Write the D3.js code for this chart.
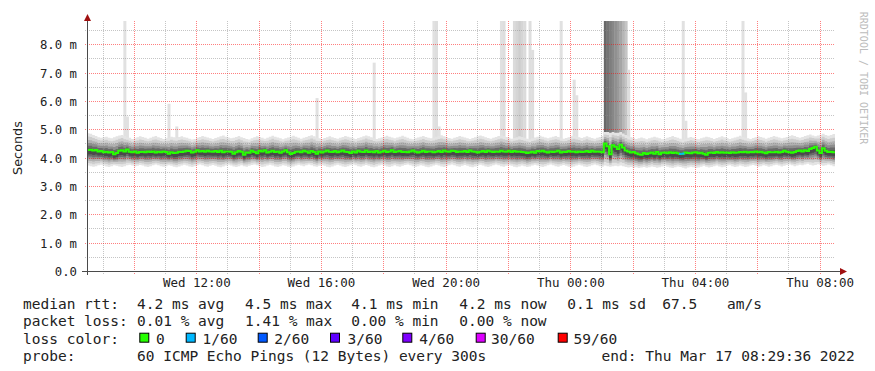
<!DOCTYPE html>
<html><head><meta charset="utf-8">
<script src="https://cdn.jsdelivr.net/npm/d3@7"></script>
<style>
html,body{margin:0;padding:0;background:#fff;}
svg{display:block;}
</style></head>
<body>
<svg id="c" width="875" height="371"></svg>
<script>
// ---------- DATA ----------
const startTime = Date.UTC(2022, 2, 16, 8, 29, 36);   // Wed Mar 16 08:29:36
const endTime   = Date.UTC(2022, 2, 17, 8, 29, 36);   // Thu Mar 17 08:29:36
const stepSec = 300;
const yTicks = [0,1,2,3,4,5,6,7,8];
const yMax = 8.82;

// median rtt (ms), one value per 5 min step (24 rows x 12)
const median = [
4.27,4.28,4.25,4.27,4.22,4.23,4.19,4.21,4.18,4.20,4.12,4.16,
4.24,4.26,4.22,4.29,4.21,4.19,4.22,4.17,4.20,4.21,4.19,4.22,
4.20,4.22,4.18,4.21,4.19,4.22,4.20,4.14,4.19,4.16,4.17,4.21,
4.20,4.22,4.24,4.23,4.18,4.21,4.26,4.22,4.23,4.21,4.24,4.22,
4.21,4.23,4.20,4.24,4.19,4.22,4.22,4.21,4.14,4.19,4.23,4.21,
4.10,4.18,4.17,4.24,4.20,4.15,4.24,4.22,4.26,4.18,4.21,4.24,
4.20,4.22,4.17,4.22,4.26,4.19,4.13,4.16,4.21,4.22,4.19,4.24,
4.22,4.17,4.23,4.20,4.14,4.22,4.18,4.22,4.25,4.21,4.20,4.23,
4.19,4.22,4.25,4.21,4.20,4.16,4.22,4.18,4.24,4.21,4.20,4.25,
4.20,4.22,4.19,4.23,4.18,4.21,4.24,4.20,4.22,4.26,4.20,4.22,
4.23,4.20,4.21,4.19,4.22,4.25,4.21,4.18,4.21,4.24,4.20,4.22,
4.22,4.19,4.21,4.23,4.20,4.25,4.22,4.21,4.24,4.23,4.20,4.22,
4.21,4.23,4.20,4.25,4.22,4.21,4.18,4.21,4.23,4.20,4.24,4.22,
4.20,4.22,4.21,4.24,4.22,4.21,4.24,4.20,4.23,4.21,4.22,4.20,
4.19,4.16,4.18,4.21,4.17,4.23,4.22,4.24,4.21,4.18,4.22,4.20,
4.22,4.24,4.18,4.21,4.20,4.23,4.21,4.22,4.19,4.22,4.20,4.21,
4.23,4.20,4.24,4.21,4.22,4.21,4.19,4.50,4.40,4.12,4.44,4.38,
4.30,4.45,4.36,4.25,4.22,4.18,4.20,4.15,4.12,4.10,4.16,4.13,
4.15,4.18,4.14,4.20,4.12,4.17,4.18,4.15,4.19,4.16,4.18,4.15,
4.13,4.14,4.18,4.16,4.15,4.18,4.19,4.15,4.17,4.14,4.10,4.17,
4.18,4.16,4.20,4.17,4.19,4.17,4.18,4.16,4.19,4.17,4.18,4.20,
4.19,4.21,4.18,4.20,4.19,4.22,4.19,4.21,4.18,4.15,4.20,4.19,
4.19,4.21,4.18,4.20,4.24,4.21,4.19,4.17,4.20,4.23,4.25,4.22,
4.26,4.23,4.30,4.34,4.38,4.25,4.16,4.33,4.24,4.20,4.21,4.19
];

// upper edge of the smoke (ms)
const smokeHigh = [
4.86,4.84,4.80,4.76,4.72,4.70,4.72,4.74,4.70,4.68,4.72,4.75,
4.78,4.80,4.76,4.72,4.70,4.66,4.68,4.72,4.75,4.73,4.70,4.67,
4.70,4.74,4.76,4.72,4.69,4.66,4.68,4.71,4.74,4.72,4.70,4.73,
4.75,4.72,4.70,4.67,4.64,4.66,4.70,4.73,4.76,4.74,4.71,4.68,
4.66,4.69,4.72,4.75,4.78,4.74,4.71,4.68,4.70,4.73,4.76,4.72,
4.69,4.66,4.64,4.68,4.72,4.75,4.73,4.70,4.67,4.70,4.74,4.77,
4.74,4.71,4.68,4.65,4.68,4.71,4.74,4.77,4.74,4.70,4.67,4.70,
4.73,4.76,4.79,4.75,4.71,4.68,4.66,4.69,4.72,4.75,4.72,4.69,
4.67,4.70,4.73,4.76,4.74,4.71,4.68,4.66,4.69,4.72,4.75,4.78,
4.75,4.72,4.69,4.66,4.68,4.71,4.74,4.77,4.74,4.71,4.68,4.71,
4.74,4.77,4.74,4.70,4.67,4.65,4.68,4.71,4.74,4.76,4.73,4.70,
4.68,4.71,4.74,4.77,4.79,4.75,4.72,4.69,4.67,4.70,4.73,4.76,
4.74,4.71,4.68,4.66,4.69,4.72,4.75,4.78,4.75,4.72,4.69,4.67,
4.70,4.73,4.76,4.79,4.76,4.73,4.70,4.67,4.69,4.72,4.75,4.73,
4.70,4.67,4.65,4.68,4.71,4.74,4.77,4.74,4.71,4.68,4.71,4.74,
4.76,4.73,4.70,4.67,4.69,4.72,4.75,4.78,4.75,4.72,4.69,4.72,
4.75,4.72,4.69,4.67,4.70,4.73,4.76,4.90,4.90,4.88,4.90,4.88,
4.88,4.90,4.85,4.80,4.75,4.72,4.69,4.66,4.68,4.71,4.68,4.65,
4.68,4.71,4.74,4.71,4.68,4.65,4.67,4.70,4.73,4.76,4.73,4.70,
4.67,4.64,4.67,4.70,4.73,4.70,4.67,4.65,4.68,4.71,4.74,4.72,
4.69,4.66,4.69,4.72,4.75,4.72,4.69,4.66,4.68,4.71,4.74,4.77,
4.74,4.71,4.68,4.66,4.69,4.72,4.75,4.73,4.70,4.67,4.70,4.73,
4.76,4.74,4.71,4.68,4.70,4.73,4.76,4.79,4.76,4.73,4.70,4.73,
4.76,4.79,4.82,4.78,4.75,4.78,4.81,4.84,4.80,4.77,4.80,4.83
];

// lower edge of the smoke (ms)
const smokeLow = [
3.72,3.70,3.68,3.70,3.73,3.75,3.72,3.69,3.67,3.70,3.73,3.71,
3.69,3.67,3.70,3.73,3.75,3.72,3.69,3.71,3.74,3.72,3.69,3.67,
3.70,3.73,3.76,3.73,3.70,3.68,3.70,3.73,3.71,3.68,3.66,3.69,
3.72,3.75,3.72,3.69,3.67,3.70,3.73,3.76,3.73,3.70,3.68,3.71,
3.74,3.71,3.68,3.66,3.69,3.72,3.75,3.72,3.69,3.67,3.70,3.73,
3.70,3.68,3.71,3.74,3.76,3.73,3.70,3.67,3.69,3.72,3.75,3.72,
3.69,3.67,3.70,3.73,3.71,3.68,3.66,3.69,3.72,3.75,3.72,3.70,
3.73,3.76,3.73,3.70,3.68,3.71,3.74,3.71,3.68,3.66,3.69,3.72,
3.75,3.72,3.69,3.67,3.70,3.73,3.76,3.73,3.70,3.68,3.71,3.74,
3.71,3.68,3.66,3.69,3.72,3.75,3.72,3.69,3.67,3.70,3.73,3.70,
3.68,3.71,3.74,3.76,3.73,3.70,3.67,3.70,3.73,3.71,3.68,3.66,
3.69,3.72,3.75,3.72,3.69,3.67,3.70,3.73,3.76,3.73,3.70,3.68,
3.71,3.74,3.71,3.68,3.66,3.69,3.72,3.75,3.72,3.69,3.67,3.70,
3.73,3.76,3.73,3.70,3.68,3.71,3.74,3.71,3.68,3.66,3.69,3.72,
3.70,3.67,3.69,3.72,3.75,3.72,3.69,3.67,3.70,3.73,3.76,3.73,
3.70,3.68,3.71,3.74,3.71,3.68,3.66,3.69,3.72,3.75,3.72,3.69,
3.67,3.70,3.73,3.76,3.73,3.70,3.68,3.72,3.70,3.68,3.70,3.71,
3.70,3.72,3.70,3.67,3.65,3.67,3.64,3.66,3.63,3.65,3.67,3.64,
3.66,3.69,3.67,3.64,3.66,3.69,3.71,3.68,3.65,3.63,3.66,3.69,
3.67,3.64,3.62,3.65,3.68,3.66,3.63,3.65,3.68,3.71,3.68,3.65,
3.67,3.70,3.72,3.69,3.66,3.68,3.71,3.73,3.70,3.67,3.69,3.72,
3.70,3.67,3.69,3.72,3.74,3.71,3.68,3.70,3.73,3.71,3.68,3.70,
3.73,3.75,3.72,3.69,3.71,3.74,3.76,3.73,3.70,3.72,3.75,3.73,
3.76,3.78,3.75,3.72,3.74,3.77,3.74,3.71,3.73,3.76,3.73,3.70
];

// outlier pings: step index, highest value (ms), number of pings above the smoke
const spikeStep  = [14,15,31,34,88,110,133,134,135,159,160,164,165,166,167,168,170,171,182,187,188,199,200,201,202,203,204,205,206,207,208,229,230,252,253];
const spikeTop   = [8.9,5.45,5.9,5.1,6.1,7.35,8.9,8.9,5.1,8.9,8.9,8.9,8.9,8.9,8.9,8.9,8.9,7.8,8.9,6.75,6.2,8.9,8.9,8.9,8.9,8.9,8.9,8.9,8.9,8.9,7.1,8.9,5.3,8.9,6.3];
const spikeCount = [1,1,1,1,1,1,1,2,1,1,2,3,5,7,5,3,2,2,1,1,1,40,36,33,30,27,24,20,15,10,2,1,1,1,1];

// steps with packet loss (index -> lost pings of 60)
const lossStep  = [228, 229];
const lossCount = [1, 1];

const lossLabels = ["0","1/60","2/60","3/60","4/60","30/60","59/60"];
const lossColors = ["#26ff00","#00b8ff","#0059ff","#5e00ff","#7e00ff","#dd00ff","#ff0000"];

const statsRtt  = ["4.2 ms avg","4.5 ms max","4.1 ms min","4.2 ms now","0.1 ms sd","67.5","am/s"];
const statsLoss = ["0.01 % avg","1.41 % max","0.00 % min","0.00 % now"];
const probeText = "60 ICMP Echo Pings (12 Bytes) every 300s";
const endText = "end: Thu Mar 17 08:29:36 2022";

// ---------- LAYOUT ----------
const L = 87, R = 835, T = 21, B = 271;
const MONO = "'DejaVu Sans Mono', monospace";
const svg = d3.select("#c");

const x = d3.scaleUtc().domain([startTime, endTime]).range([L, R]);
const y = d3.scaleLinear().domain([0, yMax]).range([B, T]);
const tAt = i => startTime + i * stepSec * 1000;
const N = median.length;

svg.append("defs").append("clipPath").attr("id","plot")
  .append("rect").attr("x", L + 1).attr("y", T).attr("width", R - L - 1).attr("height", B - T);

const plot = svg.append("g").attr("clip-path", "url(#plot)");

// ---------- SPIKES ----------
spikeStep.forEach((s, k) => {
  const g = Math.max(80, Math.round(228 - spikeCount[k] * 3.1));
  plot.append("rect")
    .attr("x", x(tAt(s))).attr("width", x(tAt(s + 1)) - x(tAt(s)) + 0.4)
    .attr("y", y(spikeTop[k])).attr("height", y(median[s]) - y(spikeTop[k]))
    .attr("fill", d3.rgb(g, g, g));
});

// ---------- SMOKE ----------
const bandF = [1, 0.82, 0.64, 0.48, 0.33, 0.18];
const bandC = ["#e4e4e4", "#cdcdcd", "#b0b0b0", "#8e8e8e", "#6a6a6a", "#4a4a4a"];
const idx = d3.range(N + 1);
const cl = i => Math.min(i, N - 1);
bandF.forEach((f, b) => {
  const area = d3.area()
    .curve(d3.curveStepAfter)
    .x(i => x(tAt(i)))
    .y0(i => { const c = median[cl(i)] - 0.07; return y(c - (c - smokeLow[cl(i)]) * f); })
    .y1(i => { const c = median[cl(i)] - 0.07; return y(c + (smokeHigh[cl(i)] - c) * f); });
  plot.append("path").datum(idx).attr("d", area).attr("fill", bandC[b]);
});

// ---------- GRID (on top of the smoke) ----------
const grid = svg.append("g");
const hours = d3.utcHour.range(new Date(startTime), new Date(endTime));
const minorC = "rgba(140,140,140,0.5)", majorC = "rgba(255,0,0,0.5)";
d3.range(0.5, yMax, 1).forEach(v => {
  grid.append("line").attr("x1", L - 2).attr("x2", R).attr("y1", Math.round(y(v)) + 0.5).attr("y2", Math.round(y(v)) + 0.5)
    .attr("stroke", minorC).attr("stroke-dasharray", "1,1");
});
hours.filter(h => h.getUTCHours() % 2 === 1).forEach(h => {
  const xx = Math.round(x(h)) + 0.5;
  grid.append("line").attr("x1", xx).attr("x2", xx).attr("y1", T).attr("y2", B + 3)
    .attr("stroke", minorC).attr("stroke-dasharray", "1,1");
});
yTicks.filter(v => v > 0).forEach(v => {
  grid.append("line").attr("x1", L - 2).attr("x2", R).attr("y1", Math.round(y(v)) + 0.5).attr("y2", Math.round(y(v)) + 0.5)
    .attr("stroke", majorC).attr("stroke-dasharray", "1,1");
});
hours.filter(h => h.getUTCHours() % 2 === 0).forEach(h => {
  const xx = Math.round(x(h)) + 0.5;
  grid.append("line").attr("x1", xx).attr("x2", xx).attr("y1", T).attr("y2", B + 3)
    .attr("stroke", majorC).attr("stroke-dasharray", "1,1");
});

// ---------- MEDIAN LINE ----------
const plot2 = svg.append("g").attr("clip-path", "url(#plot)");
const line = d3.line().curve(d3.curveStepAfter).x(i => x(tAt(i))).y(i => y(median[cl(i)]));
plot2.append("path").datum(idx).attr("d", line).attr("fill", "none")
  .attr("stroke", lossColors[0]).attr("stroke-width", 2);
lossStep.forEach((s, k) => {
  const col = lossColors[Math.min(lossCount[k], lossColors.length - 1)];
  plot2.append("path").datum([s, s + 1]).attr("d", d3.line().x(i => x(tAt(i))).y(() => y(median[s])))
    .attr("fill", "none").attr("stroke", col).attr("stroke-width", 2);
});

// ---------- AXES ----------
const axCol = "#4a4a4a";
svg.append("line").attr("x1", L + 0.5).attr("x2", L + 0.5).attr("y1", B + 4).attr("y2", 18).attr("stroke", axCol);
svg.append("line").attr("x1", L - 5).attr("x2", 842).attr("y1", B + 0.5).attr("y2", B + 0.5).attr("stroke", axCol);
svg.append("path").attr("d", `M${L + 0.5},14 L${L - 3},21 L${L + 4},21 Z`).attr("fill", "#a01010");
svg.append("path").attr("d", `M847,${B + 0.5} L840,${B - 3} L840,${B + 4} Z`).attr("fill", "#a01010");

const yAxis = d3.axisLeft(y).tickValues(yTicks).tickSize(0).tickPadding(0)
  .tickFormat(v => v === 0 ? "0.0" : d3.format(".1f")(v) + " m");
const gy = svg.append("g").attr("transform", `translate(77,0)`).call(yAxis);
gy.select(".domain").remove();
gy.selectAll("text").attr("font-family", MONO).attr("font-size", "12.3px").attr("fill", "#222").attr("dy", "0.36em");

const xAxis = d3.axisBottom(x).tickValues(d3.utcHour.every(4).range(new Date(startTime), new Date(endTime)))
  .tickSize(0).tickPadding(0).tickFormat(d3.utcFormat("%a %H:%M"));
const gx = svg.append("g").attr("transform", `translate(0,${B})`).call(xAxis);
gx.select(".domain").remove();
gx.selectAll("text").attr("font-family", MONO).attr("font-size", "12.5px").attr("fill", "#222").attr("y", 16).attr("dy", 0);

svg.append("text").attr("transform", "translate(21.5,148) rotate(-90)").attr("text-anchor", "middle")
  .attr("font-family", "'DejaVu Sans', sans-serif").attr("font-size", "12.8px").attr("fill", "#222").text("Seconds");

svg.append("text").attr("transform", "translate(860,78) rotate(90)").attr("text-anchor", "middle")
  .attr("font-family", MONO).attr("font-size", "10px").attr("fill", "#bcbcbc").text("RRDTOOL / TOBI OETIKER");

// ---------- LEGEND ----------
const lg = svg.append("g").attr("font-family", MONO).attr("font-size", "14.5px").attr("fill", "#222");
const rowY = [308.5, 326, 343.5, 361];
const txt = (s, xx, yy) => lg.append("text").attr("x", xx).attr("y", yy).text(s).attr("xml:space", "preserve");
txt("median rtt:", 23, rowY[0]);
[137, 245, 351.3, 459.3, 567.3, 662.3, 727].forEach((xx, i) => txt(statsRtt[i], xx, rowY[0]));
txt("packet loss:", 23, rowY[1]);
[137, 245, 351.3, 459.3].forEach((xx, i) => txt(statsLoss[i], xx, rowY[1]));
txt("loss color:", 23, rowY[2]);
const boxX = [139.3, 185.7, 257.7, 330, 402.3, 475.7, 557.7];
const labX = [156, 202.6, 274.3, 347.6, 419.3, 491, 573.6];
lossLabels.forEach((l, i) => {
  lg.append("rect").attr("x", boxX[i] + 0.5).attr("y", 333.2).attr("width", 9).attr("height", 9)
    .attr("fill", lossColors[i]).attr("stroke", "#000").attr("stroke-width", 1);
  txt(l, labX[i], rowY[2]);
});
txt("probe:", 23, rowY[3]);
txt(probeText, 137, rowY[3]);
txt(endText, 601.6, rowY[3]);
</script>
</body></html>
